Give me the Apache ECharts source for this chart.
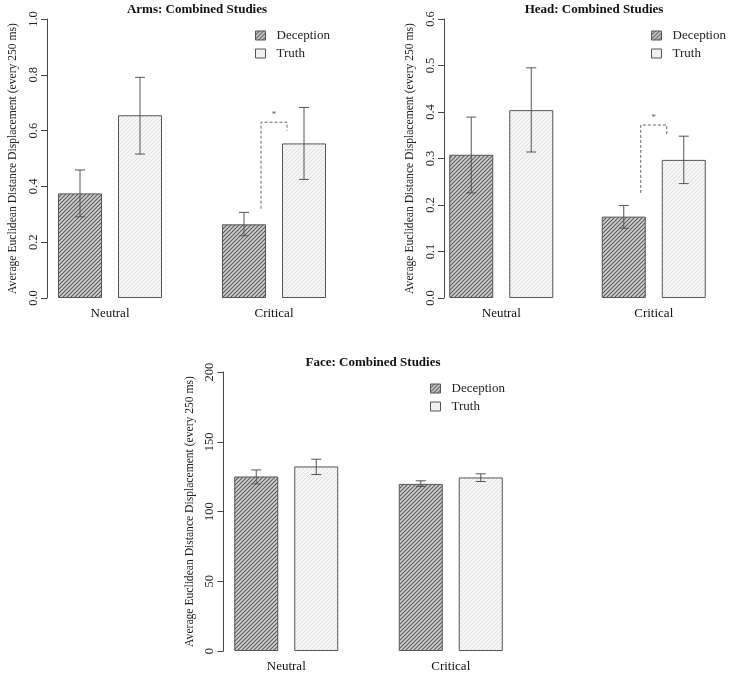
<!DOCTYPE html>
<html>
<head>
<meta charset="utf-8">
<script src="https://cdn.jsdelivr.net/npm/echarts@6/dist/echarts.min.js"></script>
<style>
html,body{margin:0;padding:0;background:#fff;}
#chart{width:730px;height:675px;}
</style>
</head>
<body>
<div id="chart"></div>
<script>
// ---- data ----
const categories = ['Neutral', 'Critical'];
const seriesNames = ['Deception', 'Truth'];

const armsDeception = [0.375, 0.264];
const armsTruth = [0.655, 0.554];
const armsDeceptionLow = [0.291, 0.223];
const armsDeceptionHigh = [0.459, 0.307];
const armsTruthLow = [0.516, 0.425];
const armsTruthHigh = [0.791, 0.683];
const armsBracket = [1, 0.32, 0.63, 0.60]; // category, left end, top, right end

const headDeception = [0.308, 0.175];
const headTruth = [0.404, 0.297];
const headDeceptionLow = [0.226, 0.150];
const headDeceptionHigh = [0.389, 0.199];
const headTruthLow = [0.314, 0.246];
const headTruthHigh = [0.495, 0.348];
const headBracket = [1, 0.226, 0.372, 0.348];

const faceDeception = [125.1, 119.8];
const faceTruth = [132.3, 124.4];
const faceDeceptionLow = [119.8, 118.0];
const faceDeceptionHigh = [129.8, 122.0];
const faceTruthLow = [126.5, 121.5];
const faceTruthHigh = [137.5, 127.0];

const titles = ['Arms: Combined Studies', 'Head: Combined Studies', 'Face: Combined Studies'];
const yLabel = 'Average Euclidean Distance Displacement (every 250 ms)';
const yMax = [1.0, 0.6, 200];
const yInterval = [0.2, 0.1, 50];
const yDecimals = [1, 1, 0];

// ---- patterns ----
function hatch(bg, line, size, lw) {
  const c = document.createElement('canvas');
  c.width = size; c.height = size;
  const g = c.getContext('2d');
  g.fillStyle = bg; g.fillRect(0, 0, size, size);
  g.strokeStyle = line; g.lineWidth = lw;
  g.beginPath();
  g.moveTo(-1, size + 1); g.lineTo(size + 1, -1);
  g.moveTo(-1, 1); g.lineTo(1, -1);
  g.moveTo(size - 1, size + 1); g.lineTo(size + 1, size - 1);
  g.stroke();
  return {image: c, repeat: 'repeat'};
}
const decPattern = hatch('#d0d0d0', '#5a5a5a', 4, 1.1);
const truthPattern = hatch('#f6f6f6', '#e0e0e0', 4, 1);

const FONT = '"Liberation Serif", "DejaVu Serif", serif';
const BAR_W = 44, GAP = 16;
const HALF = (BAR_W + GAP) / 2;

const grids = [
  {left: 28, top: 19, width: 328, height: 279},
  {left: 425, top: 19, width: 329, height: 279},
  {left: 204, top: 372, width: 329, height: 279}
];
const axisOffset = [-19, -19, -19.5];
const titlePos = [{x: 192, y: -2}, {x: 589, y: -2}, {x: 368, y: 351}];
const legendPos = [{x: 250, y: 24}, {x: 646, y: 24}, {x: 425, y: 377}];

const datasets = [
  {dec: armsDeception, tru: armsTruth, dl: armsDeceptionLow, dh: armsDeceptionHigh, tl: armsTruthLow, th: armsTruthHigh, br: armsBracket},
  {dec: headDeception, tru: headTruth, dl: headDeceptionLow, dh: headDeceptionHigh, tl: headTruthLow, th: headTruthHigh, br: headBracket},
  {dec: faceDeception, tru: faceTruth, dl: faceDeceptionLow, dh: faceDeceptionHigh, tl: faceTruthLow, th: faceTruthHigh, br: null}
];

function errRender(offset) {
  return function (params, api) {
    const c = api.value(0);
    const lo = api.coord([c, api.value(1)]);
    const hi = api.coord([c, api.value(2)]);
    const x = lo[0] + offset;
    const st = {stroke: '#555', lineWidth: 1};
    return {type: 'group', children: [
      {type: 'line', shape: {x1: x, y1: lo[1], x2: x, y2: hi[1]}, style: st},
      {type: 'line', shape: {x1: x - 5, y1: lo[1], x2: x + 5, y2: lo[1]}, style: st},
      {type: 'line', shape: {x1: x - 5, y1: hi[1], x2: x + 5, y2: hi[1]}, style: st}
    ]};
  };
}
function bracketRender(params, api) {
  const c = api.value(0);
  const l = api.coord([c, api.value(1)]);
  const t = api.coord([c, api.value(2)]);
  const r = api.coord([c, api.value(3)]);
  const xl = l[0] - 13, xr = l[0] + 13;
  const st = {stroke: '#666', lineWidth: 1, lineDash: [3, 2]};
  return {type: 'group', children: [
    {type: 'polyline', shape: {points: [[xl, l[1]], [xl, t[1]], [xr, t[1]], [xr, r[1]]]}, style: Object.assign({fill: null}, st)},
    {type: 'text', x: l[0], y: t[1] - 3, style: {text: '*', fill: '#555', font: '9px ' + FONT, align: 'center', verticalAlign: 'bottom'}}
  ]};
}

const option = {
  animation: false,
  backgroundColor: '#fff',
  title: titles.map((t, i) => ({
    text: t, left: titlePos[i].x, top: titlePos[i].y, textAlign: 'center',
    textStyle: {fontFamily: FONT, fontWeight: 'bold', fontSize: 13, color: '#111'}
  })),
  legend: legendPos.map((p, i) => ({
    left: p.x, top: p.y, orient: 'vertical', itemWidth: 10, itemHeight: 9, itemGap: 5,
    icon: 'rect', selectedMode: false,
    data: seriesNames,
    itemStyle: {borderColor: '#555', borderWidth: 1},
    textStyle: {fontFamily: FONT, fontSize: 13, color: '#222', padding: [0, 0, 0, 6]}
  })),
  grid: grids,
  xAxis: grids.map((g, i) => ({
    type: 'category', gridIndex: i, data: categories,
    axisLine: {show: false}, axisTick: {show: false},
    axisLabel: {fontFamily: FONT, fontSize: 13, color: '#111', margin: 9}
  })),
  yAxis: grids.map((g, i) => ({
    type: 'value', gridIndex: i, min: 0, max: yMax[i], interval: yInterval[i],
    offset: axisOffset[i],
    splitLine: {show: false},
    axisLine: {show: true, lineStyle: {color: '#444', width: 1}},
    axisTick: {show: true, length: 6, lineStyle: {color: '#444'}},
    axisLabel: {rotate: 90, margin: 7, fontFamily: FONT, fontSize: 12.5, color: '#222',
      formatter: v => v.toFixed(yDecimals[i])},
    name: yLabel, nameLocation: 'middle', nameRotate: 90, nameGap: 28,
    nameTextStyle: {fontFamily: FONT, fontSize: 11.6, color: '#222'}
  })),
  series: []
};

datasets.forEach((d, i) => {
  option.series.push({
    type: 'bar', name: 'Deception', xAxisIndex: i, yAxisIndex: i, data: d.dec,
    barWidth: BAR_W, barGap: (GAP / BAR_W * 100) + '%',
    itemStyle: {color: decPattern, borderColor: '#555', borderWidth: 1}
  });
  option.series.push({
    type: 'bar', name: 'Truth', xAxisIndex: i, yAxisIndex: i, data: d.tru,
    barWidth: BAR_W, barGap: (GAP / BAR_W * 100) + '%',
    itemStyle: {color: truthPattern, borderColor: '#555', borderWidth: 1}
  });
  option.series.push({
    type: 'custom', xAxisIndex: i, yAxisIndex: i, z: 5,
    renderItem: errRender(-HALF),
    data: categories.map((c, k) => [k, d.dl[k], d.dh[k]])
  });
  option.series.push({
    type: 'custom', xAxisIndex: i, yAxisIndex: i, z: 5,
    renderItem: errRender(HALF),
    data: categories.map((c, k) => [k, d.tl[k], d.th[k]])
  });
  if (d.br) {
    option.series.push({
      type: 'custom', xAxisIndex: i, yAxisIndex: i, z: 5,
      renderItem: bracketRender,
      data: [d.br]
    });
  }
});

const chart = echarts.init(document.getElementById('chart'), null, {renderer: 'canvas'});
chart.setOption(option);
</script>
</body>
</html>
